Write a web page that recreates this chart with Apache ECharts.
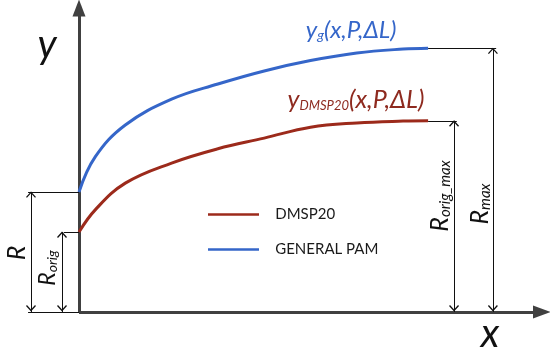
<!DOCTYPE html>
<html>
<head>
<meta charset="utf-8">
<script src="https://cdn.jsdelivr.net/npm/echarts@6/dist/echarts.min.js"></script>
<style>html,body{margin:0;padding:0;background:#fff;}#c{width:550px;height:353px;}</style>
</head>
<body>
<div id="c"></div>
<script>
// ---- data (arbitrary units) ----
const xVals      = [0, 0.35, 1, 2, 3, 4, 5, 6, 7, 7.54];
const generalPam = [3.95, 5.10, 6.15, 7.00, 7.50, 7.93, 8.27, 8.52, 8.65, 8.68];
const dmsp20     = [2.63, 3.36, 4.24, 4.90, 5.37, 5.72, 6.08, 6.22, 6.28, 6.29];
const seriesNames = ['DMSP20', 'GENERAL PAM'];
const axisEnd = 10;

// ---- layout ----
const FONT = 'Lato, "Open Sans", sans-serif';
const BLUE = '#3566c9', RED = '#9c2a1b';
const pairs = (xs, ys) => xs.map((x, i) => [x, ys[i]]);

const R = generalPam[0], Rorig = dmsp20[0];
const Rmax = generalPam[generalPam.length - 1], RorigMax = dmsp20[dmsp20.length - 1];
const xEnd = xVals[xVals.length - 1];

const tri = 'path://M0,10L5,0L10,10Z';
const dimStyle = { color: '#111', width: 1, type: 'solid' };
const axStyle = { color: '#404040', width: 3, type: 'solid' };
function seg(a, b, s2, style, size) {
  return [
    { coord: a, symbol: 'none', symbolSize: size || 1, lineStyle: style || dimStyle },
    { coord: b, symbol: s2 || 'none', symbolSize: size || 1 }
  ];
}
// vertical dimension lines (x position, top value) – arrows at both ends
const dims = [[-1.037, R], [-0.367, Rorig], [8.10, RorigMax], [8.94, Rmax]];

const dimLines = [
  // main axes
  seg([0, 0], [0, axisEnd], tri, axStyle, [13, 17]),
  seg([0, 0], [axisEnd, 0], tri, axStyle, [13, 18]),
  // extension lines
  seg([-1.10, R], [0, R]),
  seg([-1.10, 0], [0, 0]),
  seg([-0.33, Rorig], [0, Rorig]),
  seg([xEnd, RorigMax], [8.16, RorigMax]),
  seg([xEnd, Rmax], [9.01, Rmax])
].concat(dims.map(d => seg([d[0], 0], [d[0], d[1]])));

const it = { fontFamily: FONT, fontStyle: 'italic' };
const txt = (x, y, text, rich, extra) => Object.assign({
  type: 'text', x: x, y: y, silent: true,
  style: { text: text, rich: rich, textAlign: 'center', textVerticalAlign: 'middle', fill: '#111' }
}, extra || {});

const labels = [
  txt(47, 45, '{m|y}', { m: Object.assign({ fontSize: 40, fill: '#111' }, it) }),
  txt(490, 334, '{m|x}', { m: Object.assign({ fontSize: 40, fill: '#111' }, it) }),
  txt(351, 30, '{m|y}{s|g}{m|(x,P,ΔL)}', {
    m: Object.assign({ fontSize: 24, fill: BLUE }, it),
    s: Object.assign({ fontSize: 14, fill: BLUE, verticalAlign: 'bottom' }, it)
  }),
  txt(356, 100, '{m|y}{s|DMSP20}{m|(x,P,ΔL)}', {
    m: Object.assign({ fontSize: 25, fill: '#8e2a1f' }, it),
    s: Object.assign({ fontSize: 13, fill: '#8e2a1f', verticalAlign: 'bottom' }, it)
  }),
  txt(17, 253, '{m|R}', { m: Object.assign({ fontSize: 25, fill: '#111' }, it) }, { rotation: Math.PI / 2 }),
  txt(48, 268, '{m|R}{s|orig}', {
    m: Object.assign({ fontSize: 23, fill: '#111' }, it),
    s: Object.assign({ fontSize: 14, fill: '#111', verticalAlign: 'bottom' }, it)
  }, { rotation: Math.PI / 2 }),
  txt(440, 196, '{m|R}{s|orig_max}', {
    m: Object.assign({ fontSize: 25, fill: '#111' }, it),
    s: Object.assign({ fontSize: 15, fill: '#111', verticalAlign: 'bottom' }, it)
  }, { rotation: Math.PI / 2 }),
  txt(480, 204, '{m|R}{s|max}', {
    m: Object.assign({ fontSize: 25, fill: '#111' }, it),
    s: Object.assign({ fontSize: 15, fill: '#111', verticalAlign: 'bottom' }, it)
  }, { rotation: Math.PI / 2 })
];

const chart = echarts.init(document.getElementById('c'), null, { renderer: 'canvas' });
chart.setOption({
  animation: false,
  backgroundColor: '#ffffff',
  grid: { left: 0, right: 0, top: 0, bottom: 0 },
  xAxis: { type: 'value', min: -1.7063, max: 10.1728, show: false },
  yAxis: { type: 'value', min: -1.3487, max: 10.2632, show: false },
  legend: {
    data: seriesNames,
    orient: 'vertical',
    left: 203, top: 202, padding: 5,
    icon: 'rect',
    itemWidth: 51, itemHeight: 2.5,
    itemGap: 20,
    formatter: n => '\u2002\u2009\u2009' + n,
    textStyle: { fontFamily: FONT, fontSize: 15, color: '#1a1a1a' }
  },
  series: [
    {
      name: 'DMSP20', type: 'line', data: pairs(xVals, dmsp20),
      smooth: 0.4, showSymbol: false, symbol: 'none',
      lineStyle: { color: RED, width: 3 }, itemStyle: { color: RED }, clip: false, z: 5
    },
    {
      name: 'GENERAL PAM', type: 'line', data: pairs(xVals, generalPam),
      smooth: 0.4, showSymbol: false, symbol: 'none',
      lineStyle: { color: BLUE, width: 3 }, itemStyle: { color: BLUE }, clip: false, z: 5
    },
    {
      name: 'dims', type: 'line', data: [], silent: true, z: 3,
      markLine: {
        silent: true, animation: false,
        symbol: ['none', 'none'],
        label: { show: false },
        emphasis: { disabled: true },
        data: dimLines
      }
    }
  ]
});

// open arrowheads at both ends of each dimension line, placed through the axes
const heads = [];
dims.forEach(d => {
  const top = chart.convertToPixel({ gridIndex: 0 }, [d[0], d[1]]);
  const bot = chart.convertToPixel({ gridIndex: 0 }, [d[0], 0]);
  heads.push({ type: 'polyline', silent: true,
    shape: { points: [[top[0] - 4.5, top[1] + 5.5], [top[0], top[1] + 0.5], [top[0] + 4.5, top[1] + 5.5]] },
    style: { stroke: '#111', lineWidth: 1.3, fill: null } });
  heads.push({ type: 'polyline', silent: true,
    shape: { points: [[bot[0] - 4.5, bot[1] - 6.5], [bot[0], bot[1] - 1.5], [bot[0] + 4.5, bot[1] - 6.5]] },
    style: { stroke: '#111', lineWidth: 1.3, fill: null } });
});
chart.setOption({ graphic: labels.concat(heads) });
</script>
</body>
</html>
